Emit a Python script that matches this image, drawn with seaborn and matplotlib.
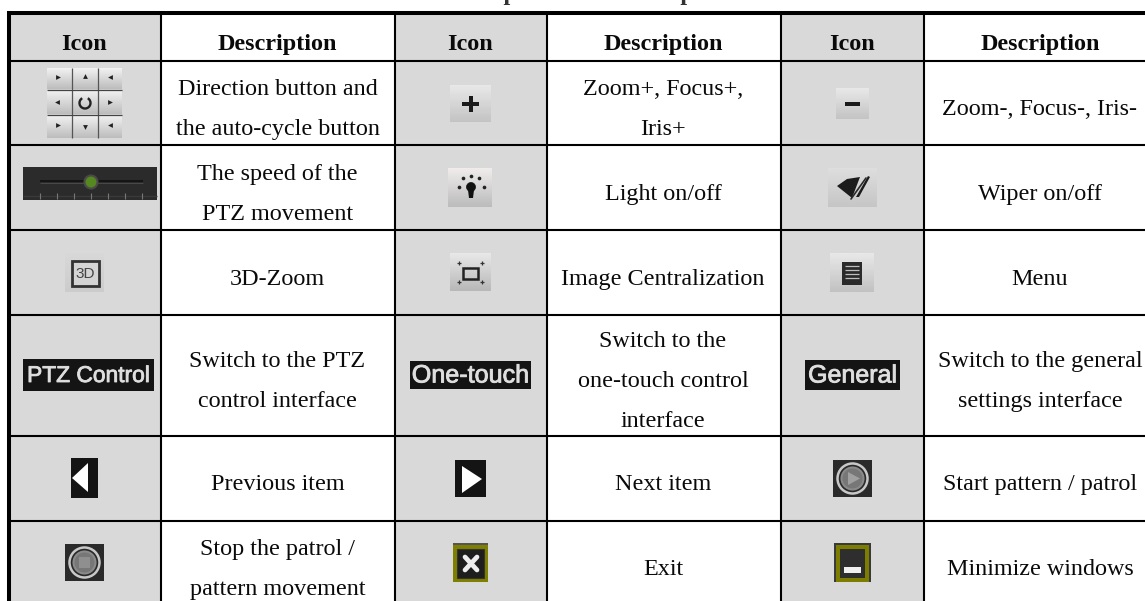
import numpy as np
import matplotlib
matplotlib.use("Agg")
import matplotlib.pyplot as plt
import matplotlib.patheffects as pe
from matplotlib.colors import ListedColormap
from matplotlib.patches import Rectangle, Circle, Polygon
import seaborn as sns

sns.set_theme(style="white")
plt.rcParams['font.family'] = ['Liberation Serif', 'DejaVu Serif']

# Table content
header = ["Icon", "Description", "Icon", "Description", "Icon", "Description"]
desc_col1 = [["Direction button and", "the auto-cycle button"],
             ["The speed of the", "PTZ movement"],
             ["3D-Zoom"],
             ["Switch to the PTZ", "control interface"],
             ["Previous item"],
             ["Stop the patrol /", "pattern movement"]]
desc_col2 = [["Zoom+, Focus+,", "Iris+"],
             ["Light on/off"],
             ["Image Centralization"],
             ["Switch to the", "one-touch control", "interface"],
             ["Next item"],
             ["Exit"]]
desc_col3 = [["Zoom-, Focus-, Iris-"],
             ["Wiper on/off"],
             ["Menu"],
             ["Switch to the general", "settings interface"],
             ["Start pattern / patrol"],
             ["Minimize windows"]]
caption = "Table 14.1 Description of the PTZ panel icons"

# Layout in image pixels
W, H = 1145, 601
col_edges = [9, 161, 395, 547, 781, 924, 1145]
row_edges = [13, 61, 145, 230, 315, 436, 521]
desc_x = [277.5, 663, 1040]
header_x = [84, 277.5, 470, 663, 852, 1040]
row_mid = [107, 192, 277, 379, 482, 567]
GREY = "#d9d9d9"

# pixel-sized heatmap gives the cell shading and the pixel axes
shade = np.zeros((1, W))
for i in (0, 2, 4):
    shade[0, col_edges[i]:col_edges[i + 1]] = 1
shade = np.repeat(shade, H, axis=0)
shade[:row_edges[0]] = 0

fig = plt.figure(figsize=(W / 100, H / 100), dpi=100)
ax = fig.add_axes([0, 0, 1, 1])
sns.heatmap(shade, ax=ax, cmap=ListedColormap(["white", GREY]), cbar=False,
            xticklabels=False, yticklabels=False, vmin=0, vmax=1)
ax.set_xlim(0, W)
ax.set_ylim(H, 0)
ax.set_axis_off()

# Rules
ax.hlines(row_edges[1:], 9, W, color="black", lw=1.5)
ax.vlines(col_edges[1:-1], 13, H, color="black", lw=1.5)
ax.hlines(13, 7, W, color="black", lw=2.9)
ax.vlines(9, 11, H, color="black", lw=2.9)

# Text
text_kw = dict(ha="center", va="baseline", color="#0a0a0a", fontsize=17.4)
for x, label in zip(header_x, header):
    ax.text(x, 50, label, fontweight="bold", **text_kw)
for x, col in zip(desc_x, (desc_col1, desc_col2, desc_col3)):
    for mid, lines in zip(row_mid, col):
        n = len(lines)
        for j, s in enumerate(lines):
            ax.text(x, mid + 8 + (j - (n - 1) / 2) * 40, s, **text_kw)
ax.text(561, 0.4, caption, ha="center", va="baseline", color="#333333", fontsize=17.4, fontweight="bold")


def grad(x0, x1, y0, y1, top="#f0eeee", bottom="#c8c8c8"):
    g = np.linspace(0, 1, 32).reshape(-1, 1)
    c0 = np.array(matplotlib.colors.to_rgb(top))
    c1 = np.array(matplotlib.colors.to_rgb(bottom))
    img = (c0 * (1 - g) + c1 * g).reshape(32, 1, 3)
    ax.imshow(img, extent=(x0, x1, y1, y0), aspect="auto", zorder=2)


def box(x0, x1, y0, y1, fc, ec="none", lw=0, z=2):
    ax.add_patch(Rectangle((x0, y0), x1 - x0, y1 - y0, fc=fc, ec=ec, lw=lw, zorder=z))


def tri(pts, color, z=4):
    ax.add_patch(Polygon(pts, closed=True, fc=color, ec="none", zorder=z))


def ring(x, y, r, color, lw, fc="none"):
    ax.add_patch(Circle((x, y), r, fc=fc, ec=color, lw=lw, zorder=4))


def label_icon(x0, x1, y0, y1, s, size):
    box(x0, x1, y0, y1, "#141414")
    t = ax.text((x0 + x1) / 2, (y0 + y1) / 2 + 0.5, s, color="#dedede", ha="center", va="center",
                fontsize=size, family="Liberation Sans", zorder=4)
    t.set_path_effects([pe.withStroke(linewidth=0.6, foreground="#dedede")])


# Direction pad
for y0, y1 in [(68, 89), (90, 114), (115, 138)]:
    grad(47, 122, y0, y1, "#f2f2f2", "#bdbdbd")
ax.vlines([72, 98], 68, 138, color="#555555", lw=0.9, zorder=3)
ax.hlines([89.5, 114.5], 47, 122, color="#444444", lw=0.9, zorder=3)
for px, py, mk in [(58, 77, ">"), (85, 76, "^"), (110, 77, "<"), (57, 102, "<"), (110, 102, ">"),
                   (58, 125, ">"), (85, 127, "v"), (110, 125, "<")]:
    ax.scatter([px], [py], marker=mk, s=12, color="#222222", zorder=4, linewidths=0)
ax.add_patch(matplotlib.patches.Arc((85, 103), 11, 11, theta1=-60, theta2=240, ec="#222222", lw=1.7, zorder=4))

# Speed slider
box(23, 157, 167, 200, "#2b2b2b")
ax.hlines(181, 40, 143, color="#111111", lw=1.2, zorder=3)
ax.hlines(183, 40, 143, color="#555555", lw=0.5, zorder=3)
ax.hlines(196, 23, 157, color="#3a3a3a", lw=1, zorder=3)
ax.vlines(np.arange(40, 145, 17), 193, 199, color="#777777", lw=0.8, zorder=3)
ring(91, 182, 6.5, "#4a4a4a", 1.5, fc="#55881f")

# 3D zoom
grad(65, 104, 253, 292, "#d8d8d8", "#cccccc")
box(71.5, 99, 261, 286, "#d4d4d4", ec="#333333", lw=2.0, z=3)
ax.text(85.5, 274, "3D", color="#444444", ha="center", va="center", fontsize=11, family="Liberation Sans", zorder=4)

# Text buttons
label_icon(23, 154, 359, 391, "PTZ Control", 16.4)
label_icon(410, 531, 361, 389, "One-touch", 18.1)
label_icon(805, 900, 360, 390, "General", 18)

# Previous / next
box(71, 98, 458, 498, "#141414")
tri([(72, 478), (88, 463), (88, 492)], "white")
box(455, 486, 460, 497, "#141414")
tri([(462, 466), (482, 479), (462, 493)], "white")

# Stop / start
box(65, 104, 544, 581, "#2a2a2a")
ring(84.5, 562.5, 15, "#c8c8c8", 1.8)
ring(84.5, 562.5, 11, "#8a8a8a", 1.5, fc="#777777")
box(79, 90, 557, 568, "#8f8f8f", z=5)
box(833, 872, 460, 497, "#2a2a2a")
ring(852.5, 478.5, 15, "#c8c8c8", 1.8)
ring(852.5, 478.5, 11, "#8a8a8a", 1.5, fc="#777777")
tri([(848, 472), (860, 478.5), (848, 485)], "#a0a0a0", z=5)

# Plus
grad(450, 491, 85, 122, "#e8e8e8", "#c4c4c4")
box(462, 479, 102, 106, "#1a1a1a", z=3)
box(468.5, 472.5, 96, 112, "#1a1a1a", z=3)

# Light
grad(448, 492, 168, 207, "#f0ecec", "#bcbcbc")
ring(471, 187, 4.5, "#111111", 0.5, fc="#111111")
tri([(468, 190), (474, 190), (473, 198), (469, 198)], "#111111")
ax.scatter([459, 463, 471, 479, 484], [187, 178, 176, 178, 187], s=7, color="#222222", zorder=4, linewidths=0)

# Centralization
grad(450, 491, 253, 291, "#e8e8e8", "#b8b8b8")
box(463, 478, 268, 279, "none", ec="#222222", lw=1.8, z=4)
ax.scatter([459, 482, 459, 482], [263, 263, 282, 282], marker="+", s=12, color="#333333", zorder=4, linewidths=0.9)

# Exit
box(453, 488, 543, 582, "#808000")
box(453, 488, 543, 545, "#555555", z=3)
box(457, 484, 549, 578, "#1e1e1e", ec="#333333", lw=0.8, z=3)
ax.plot([465, 477], [557, 570], color="#eeeeee", lw=3.4, zorder=4)
ax.plot([465, 477], [570, 557], color="#eeeeee", lw=3.4, zorder=4)

# Minus
grad(836, 869, 88, 119, "#e8e8e8", "#c4c4c4")
box(845, 860, 102, 106, "#1a1a1a", z=3)

# Wiper
grad(828, 877, 168, 207, "#dedede", "#c6c6c6")
tri([(837, 186), (847, 179), (860, 177), (852, 198)], "#1c1c1c")
tri([(856, 197), (868, 176), (870, 177), (859, 197)], "#1c1c1c")
ax.plot([851, 866], [199, 178], color="#2a2a2a", lw=1.2, zorder=4)

# Menu
grad(830, 874, 253, 292, "#e8e8e8", "#c2c2c2")
box(842, 862, 262, 285, "#2a2a2a", z=3)
ax.hlines([266, 270, 274, 278], 845, 859, color="#bdbdbd", lw=0.9, zorder=4)

# Minimize
box(834, 871, 543, 582, "#3a3a3a")
box(836, 869, 545, 582, "#7d7d00", z=3)
box(840, 865, 549, 578, "#2e2e2e", z=3)
box(844, 861, 567, 573, "#f0f0f0", z=4)

fig.savefig("out.png", dpi=100)
plt.close(fig)
